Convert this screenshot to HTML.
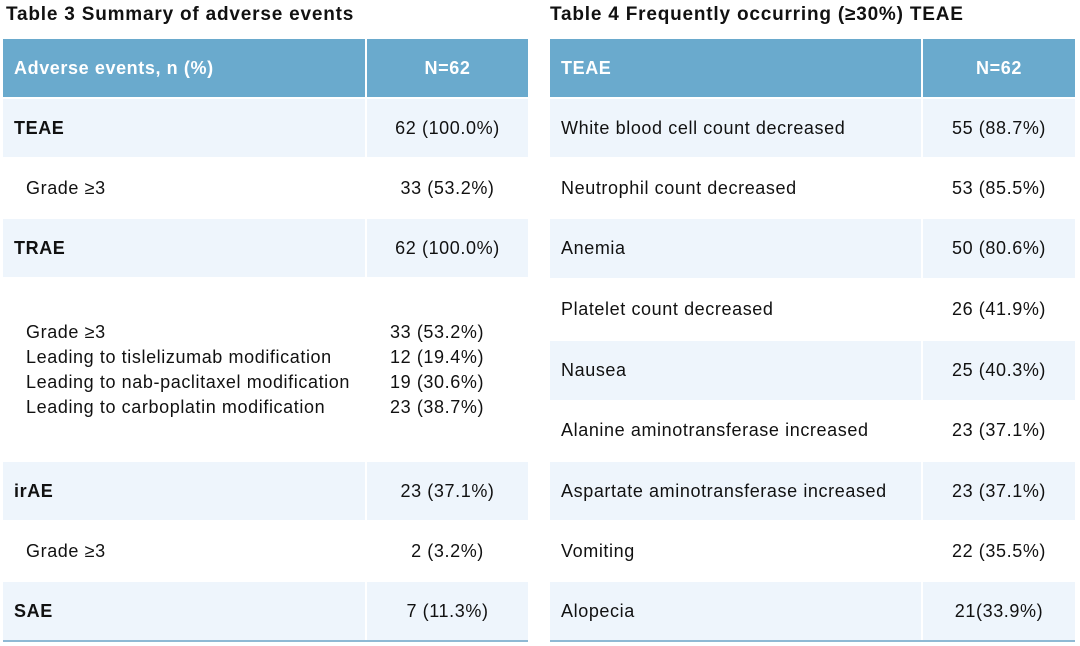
<!DOCTYPE html>
<html><head><meta charset="utf-8"><style>
body{margin:0;width:1080px;height:646px;background:#fff;font-family:"Liberation Sans",sans-serif;color:#111;position:relative;overflow:hidden}
.t{position:absolute;top:4px;font-weight:bold;font-size:19px;letter-spacing:0.8px}
.c{position:absolute;display:flex;align-items:center;font-size:18px;letter-spacing:0.6px;box-sizing:border-box;white-space:nowrap}
.h{background:#6aaacd;color:#fff;font-weight:bold}
.l{background:#eef5fc}
.w{background:#fff}
.line{position:absolute;height:2px;background:#8fb9d4}
.blk{position:absolute;top:320px;font-size:18px;letter-spacing:0.6px;line-height:25px;white-space:nowrap}
</style></head><body>
<div class="t" style="left:6px">Table 3 Summary of adverse events</div>
<div class="t" style="left:550px">Table 4 Frequently occurring (≥30%) TEAE</div>
<!-- left table -->
<div class="c h" style="left:3px;top:39px;width:362px;height:58px;padding-left:11px">Adverse events, n (%)</div>
<div class="c h" style="left:367px;top:39px;width:161px;height:58px;justify-content:center">N=62</div>

<div class="c l" style="left:3px;top:99px;width:362px;height:58px;padding-left:11px;font-weight:bold">TEAE</div>
<div class="c l" style="left:367px;top:99px;width:161px;height:58px;justify-content:center">62 (100.0%)</div>
<div class="c w" style="left:3px;top:159px;width:362px;height:58px;padding-left:23px">Grade ≥3</div>
<div class="c w" style="left:367px;top:159px;width:161px;height:58px;justify-content:center">33 (53.2%)</div>
<div class="c l" style="left:3px;top:219px;width:362px;height:58px;padding-left:11px;font-weight:bold">TRAE</div>
<div class="c l" style="left:367px;top:219px;width:161px;height:58px;justify-content:center">62 (100.0%)</div>
<div class="blk" style="left:26px">Grade ≥3<br>Leading to tislelizumab modification<br>Leading to nab-paclitaxel modification<br>Leading to carboplatin modification</div>
<div class="blk" style="left:390px">33 (53.2%)<br>12 (19.4%)<br>19 (30.6%)<br>23 (38.7%)</div>
<div class="c l" style="left:3px;top:462px;width:362px;height:58px;padding-left:11px;font-weight:bold">irAE</div>
<div class="c l" style="left:367px;top:462px;width:161px;height:58px;justify-content:center">23 (37.1%)</div>
<div class="c w" style="left:3px;top:522px;width:362px;height:58px;padding-left:23px">Grade ≥3</div>
<div class="c w" style="left:367px;top:522px;width:161px;height:58px;justify-content:center">2 (3.2%)</div>
<div class="c l" style="left:3px;top:582px;width:362px;height:58px;padding-left:11px;font-weight:bold">SAE</div>
<div class="c l" style="left:367px;top:582px;width:161px;height:58px;justify-content:center">7 (11.3%)</div>
<div class="line" style="left:3px;top:640px;width:525px"></div>

<!-- right table -->
<div class="c h" style="left:550px;top:39px;width:371px;height:58px;padding-left:11px">TEAE</div>
<div class="c h" style="left:923px;top:39px;width:152px;height:58px;justify-content:center">N=62</div>
<div class="c l" style="left:550px;top:99px;width:371px;height:58px;padding-left:11px">White blood cell count decreased</div>
<div class="c l" style="left:923px;top:99px;width:152px;height:58px;justify-content:center">55 (88.7%)</div>
<div class="c w" style="left:550px;top:159px;width:371px;height:58px;padding-left:11px">Neutrophil count decreased</div>
<div class="c w" style="left:923px;top:159px;width:152px;height:58px;justify-content:center">53 (85.5%)</div>
<div class="c l" style="left:550px;top:219px;width:371px;height:59px;padding-left:11px">Anemia</div>
<div class="c l" style="left:923px;top:219px;width:152px;height:59px;justify-content:center">50 (80.6%)</div>
<div class="c w" style="left:550px;top:280px;width:371px;height:59px;padding-left:11px">Platelet count decreased</div>
<div class="c w" style="left:923px;top:280px;width:152px;height:59px;justify-content:center">26 (41.9%)</div>
<div class="c l" style="left:550px;top:341px;width:371px;height:59px;padding-left:11px">Nausea</div>
<div class="c l" style="left:923px;top:341px;width:152px;height:59px;justify-content:center">25 (40.3%)</div>
<div class="c w" style="left:550px;top:401px;width:371px;height:59px;padding-left:11px">Alanine aminotransferase increased</div>
<div class="c w" style="left:923px;top:401px;width:152px;height:59px;justify-content:center">23 (37.1%)</div>
<div class="c l" style="left:550px;top:462px;width:371px;height:58px;padding-left:11px">Aspartate aminotransferase increased</div>
<div class="c l" style="left:923px;top:462px;width:152px;height:58px;justify-content:center">23 (37.1%)</div>
<div class="c w" style="left:550px;top:522px;width:371px;height:58px;padding-left:11px">Vomiting</div>
<div class="c w" style="left:923px;top:522px;width:152px;height:58px;justify-content:center">22 (35.5%)</div>
<div class="c l" style="left:550px;top:582px;width:371px;height:58px;padding-left:11px">Alopecia</div>
<div class="c l" style="left:923px;top:582px;width:152px;height:58px;justify-content:center">21(33.9%)</div>
<div class="line" style="left:550px;top:640px;width:525px"></div>
</body></html>
